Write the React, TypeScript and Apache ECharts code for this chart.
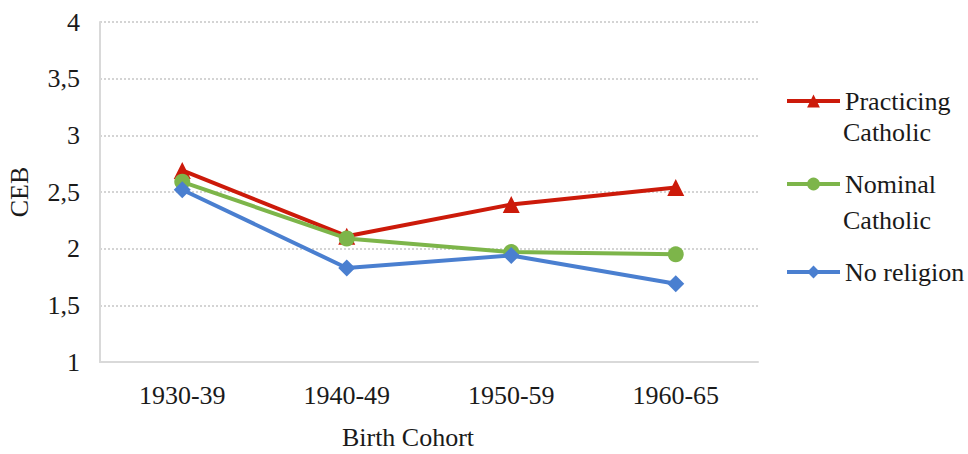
import React, { useEffect, useRef } from "react";
import * as echarts from "echarts";

const categories = ["1930-39", "1940-49", "1950-59", "1960-65"];
const practicing = [2.69, 2.11, 2.39, 2.54];
const nominal = [2.59, 2.09, 1.97, 1.95];
const noReligion = [2.52, 1.83, 1.94, 1.69];
const seriesNames = ["Practicing Catholic", "Nominal Catholic", "No religion"];
const legendFirstLines = ["Practicing", "Nominal", "No religion"];
const legendSecondLines = ["Catholic", "Catholic", ""];
const colors = ["#CC1A0A", "#7DB54A", "#4A7FD0"];

const FONT = "'Liberation Serif', 'Times New Roman', serif";

export default function App() {
  const ref = useRef<HTMLDivElement>(null);
  useEffect(() => {
    if (!ref.current) return;
    const chart = echarts.init(ref.current, null, { renderer: "svg" });
    const legendTops = [86, 169, 257];
    const secondTops = [132, 220];
    const legends = seriesNames.map((n, i) => ({
      data: [n],
      left: 785,
      top: legendTops[i],
      padding: 0,
      orient: "vertical",
      selectedMode: false,
      itemWidth: 53,
      itemHeight: 16,
      itemGap: 5,
      lineStyle: { width: 4 },
      formatter: () => legendFirstLines[i],
      textStyle: { fontFamily: FONT, fontSize: 26, color: "#1a1a1a", lineHeight: 30 },
    }));
    const graphics = legendSecondLines
      .map((t, i) => ({ t, i }))
      .filter((o) => o.t)
      .map((o) => ({
        type: "text",
        left: 843,
        top: secondTops[o.i] - 15,
        style: { text: o.t, fontFamily: FONT, fontSize: 26, fill: "#1a1a1a", lineHeight: 30 },
      }));
    const mk = (name: string, data: number[], color: string, symbol: string, size: number) => ({
      name,
      type: "line",
      data,
      symbol,
      symbolSize: size,
      lineStyle: { color, width: 4 },
      itemStyle: { color },
      z: 3,
    });
    chart.setOption({
      animation: false,
      backgroundColor: "#ffffff",
      grid: { left: 100, right: 210, top: 22, bottom: 92, outerBoundsMode: "none", containLabel: false },
      legend: legends,
      graphic: graphics,
      xAxis: {
        type: "category",
        data: categories,
        boundaryGap: true,
        axisLine: { lineStyle: { color: "#d9d9d9", width: 2 } },
        axisTick: { show: false },
        axisLabel: { fontFamily: FONT, fontSize: 26, color: "#1a1a1a", margin: 20 },
        name: "Birth Cohort",
        nameLocation: "middle",
        nameGap: 62,
        nameTextStyle: { fontFamily: FONT, fontSize: 26, color: "#1a1a1a", padding: [0, 42, 0, 0] },
      },
      yAxis: {
        type: "value",
        min: 1,
        max: 4,
        interval: 0.5,
        axisLine: { show: true, lineStyle: { color: "#d9d9d9", width: 2 } },
        axisTick: { show: false },
        splitLine: { lineStyle: { color: "#d4d4d4", width: 2, type: [2, 2] } },
        axisLabel: {
          fontFamily: FONT,
          fontSize: 26,
          color: "#1a1a1a",
          margin: 20,
          formatter: (v: number) => String(v).replace(".", ","),
        },
        name: "CEB",
        nameLocation: "middle",
        nameGap: 68,
        nameRotate: 90,
        nameTextStyle: { fontFamily: FONT, fontSize: 26, color: "#1a1a1a" },
      },
      series: [
        mk(seriesNames[0], practicing, colors[0], "triangle", 17),
        mk(seriesNames[1], nominal, colors[1], "circle", 16),
        mk(seriesNames[2], noReligion, colors[2], "diamond", 17),
      ],
    });
    return () => chart.dispose();
  }, []);
  return (
    <div
      ref={ref}
      style={{ position: "fixed", left: 0, top: 0, width: 968, height: 454 }}
    />
  );
}
